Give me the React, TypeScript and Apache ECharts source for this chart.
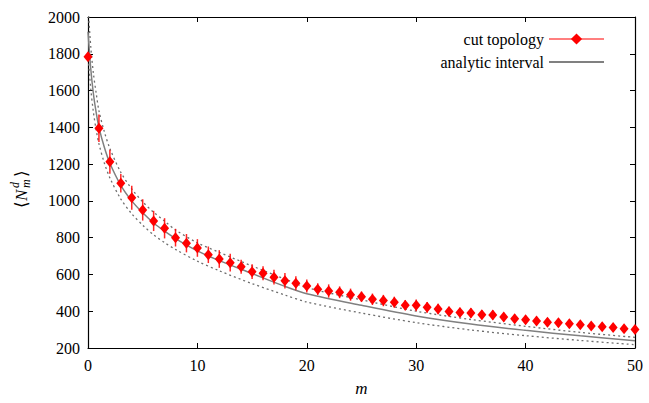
import React, { useEffect, useRef } from "react";
import * as echarts from "echarts";

// measured points (m = 0..50)
const mValues: number[] = Array.from({ length: 51 }, (_, i) => i);
const cutTopology: number[] = [
  1784, 1395, 1213, 1096, 1017, 951, 891, 851, 800, 770,
  744, 707, 684, 664, 642, 615, 607, 585, 566, 552,
  537, 520, 510, 503, 490, 479, 465, 458, 449, 433,
  432, 421, 412, 398, 393, 390, 381, 380, 368, 359,
  354, 347, 340, 337, 332, 326, 320, 316, 311, 305,
  301,
];
const cutErrors: number[] = [
  15, 75, 65, 50, 65, 58, 55, 55, 48, 50,
  48, 45, 48, 48, 38, 40, 38, 40, 42, 38,
  35, 32, 36, 32, 33, 28, 31, 31, 30, 28,
  32, 29, 29, 26, 26, 26, 25, 25, 24, 24,
  23, 23, 22, 22, 22, 21, 21, 21, 20, 20,
  20,
];

// analytic interval curves
const curveM: number[] = [0, 0.25, 0.5, 0.75, 1, 1.5, 2, 3, 4, 5, 6, 7, 8, 10, 12, 15, 18, 20, 25, 30, 35, 40, 45, 50];
const analyticMid: number[] = [1920, 1720, 1580, 1480, 1400, 1290, 1205, 1085, 1000, 935, 880, 835, 795, 728, 675, 605, 535, 495, 432, 374, 330, 296, 266, 240];
const analyticUpper: number[] = [2060, 1840, 1690, 1585, 1490, 1375, 1285, 1155, 1065, 995, 938, 890, 842, 772, 720, 646, 575, 528, 462, 400, 355, 318, 285, 258];
const analyticLower: number[] = [1800, 1610, 1480, 1385, 1310, 1205, 1125, 1010, 930, 868, 815, 773, 736, 672, 620, 550, 488, 450, 390, 338, 298, 267, 241, 218];

const xTicks = { min: 0, max: 50, interval: 10 };
const yTicks = { min: 200, max: 2000, interval: 200 };

const FONT = "Liberation Serif, DejaVu Serif, serif";

export default function App() {
  const ref = useRef<HTMLDivElement>(null);

  useEffect(() => {
    if (!ref.current) return;
    const chart = echarts.init(ref.current, undefined, { renderer: "svg" });

    const pts = mValues.map((m, i) => [m, cutTopology[i]]);
    const bars = mValues.map((m, i) => [m, cutTopology[i] - cutErrors[i], cutTopology[i] + cutErrors[i]]);
    const mid = curveM.map((m, i) => [m, analyticMid[i]]);
    const up = curveM.map((m, i) => [m, analyticUpper[i]]);
    const lo = curveM.map((m, i) => [m, analyticLower[i]]);

    const axisCommon = {
      axisLine: { show: true, onZero: false, lineStyle: { color: "#000", width: 1.2 } },
      axisTick: { show: true, inside: true, length: 5, lineStyle: { color: "#000", width: 1 } },
      splitLine: { show: false },
    };
    const plain = (v: number) => String(v);

    chart.setOption({
      animation: false,
      backgroundColor: "#fff",
      grid: { left: 88, right: 14, top: 17, bottom: 55, show: false },
      legend: {
        right: 39,
        top: 26,
        orient: "vertical",
        align: "right",
        itemWidth: 55,
        itemHeight: 14,
        itemGap: 7,
        itemTextGap: 12,
        textStyle: { fontFamily: FONT, fontSize: 16, color: "#000" },
        data: [
          { name: "cut topology", lineStyle: { color: "#ff0000", width: 1.2, opacity: 1 }, itemStyle: { color: "#ff0000" } },
          { name: "analytic interval", itemStyle: { opacity: 0 } },
        ],
      },
      xAxis: [
        {
          type: "value",
          ...xTicks,
          position: "bottom",
          ...axisCommon,
          axisLabel: { fontFamily: FONT, fontSize: 16, color: "#000", margin: 9, formatter: plain },
          name: "m",
          nameLocation: "middle",
          nameGap: 32,
          nameTextStyle: { fontFamily: FONT, fontSize: 17, fontStyle: "italic", color: "#000" },
        },
        {
          type: "value",
          ...xTicks,
          position: "top",
          ...axisCommon,
          axisLabel: { show: false },
        },
      ],
      yAxis: [
        {
          type: "value",
          ...yTicks,
          position: "left",
          ...axisCommon,
          axisLabel: { fontFamily: FONT, fontSize: 16, color: "#000", margin: 8, formatter: plain },
        },
        {
          type: "value",
          ...yTicks,
          position: "right",
          ...axisCommon,
          axisLabel: { show: false },
        },
      ],
      graphic: [
        {
          type: "group",
          x: 21,
          y: 183,
          rotation: Math.PI / 2,
          children: [
            { type: "text", x: -25, y: 0, style: { text: "⟨", fontFamily: FONT, fontSize: 17, fill: "#000", verticalAlign: "middle" } },
            { type: "text", x: -18, y: 0, style: { text: "N", fontFamily: FONT, fontSize: 17, fontStyle: "italic", fill: "#000", verticalAlign: "middle" } },
            { type: "text", x: -5, y: -6, style: { text: "d", fontFamily: FONT, fontSize: 12, fontStyle: "italic", fill: "#000", verticalAlign: "middle" } },
            { type: "text", x: -5, y: 5, style: { text: "m", fontFamily: FONT, fontSize: 12, fontStyle: "italic", fill: "#000", verticalAlign: "middle" } },
            { type: "text", x: 6, y: 0, style: { text: "⟩", fontFamily: FONT, fontSize: 17, fill: "#000", verticalAlign: "middle" } },
          ],
        },
      ],
      series: [
        {
          name: "upper",
          type: "line",
          data: up,
          symbol: "none",
          smooth: 0.3,
          clip: true,
          lineStyle: { color: "#6e6e6e", width: 1.3, type: [2, 3] },
          z: 2,
        },
        {
          name: "lower",
          type: "line",
          data: lo,
          symbol: "none",
          smooth: 0.3,
          clip: true,
          lineStyle: { color: "#6e6e6e", width: 1.3, type: [2, 3] },
          z: 2,
        },
        {
          name: "analytic interval",
          type: "line",
          data: mid,
          symbol: "none",
          smooth: 0.3,
          clip: true,
          lineStyle: { color: "#808080", width: 1.5 },
          itemStyle: { color: "#808080" },
          z: 3,
        },
        {
          name: "errbars",
          type: "custom",
          data: bars,
          encode: { x: 0, y: [1, 2] },
          renderItem: (params: any, api: any) => {
            const x = api.value(0);
            const p1 = api.coord([x, api.value(1)]);
            const p2 = api.coord([x, api.value(2)]);
            return {
              type: "line",
              shape: { x1: p1[0], y1: p1[1], x2: p2[0], y2: p2[1] },
              style: { stroke: "#ff0000", lineWidth: 1.5, opacity: 0.85 },
            };
          },
          z: 4,
        },
        {
          name: "cut topology",
          type: "line",
          data: pts,
          symbol: "diamond",
          symbolSize: [9, 11],
          showSymbol: true,
          lineStyle: { width: 0, opacity: 0 },
          itemStyle: { color: "#ff0000" },
          z: 5,
        },
      ],
    });

    return () => chart.dispose();
  }, []);

  return (
    <div
      ref={ref}
      style={{ position: "fixed", left: 0, top: 0, width: 649, height: 403, background: "#fff" }}
    />
  );
}
